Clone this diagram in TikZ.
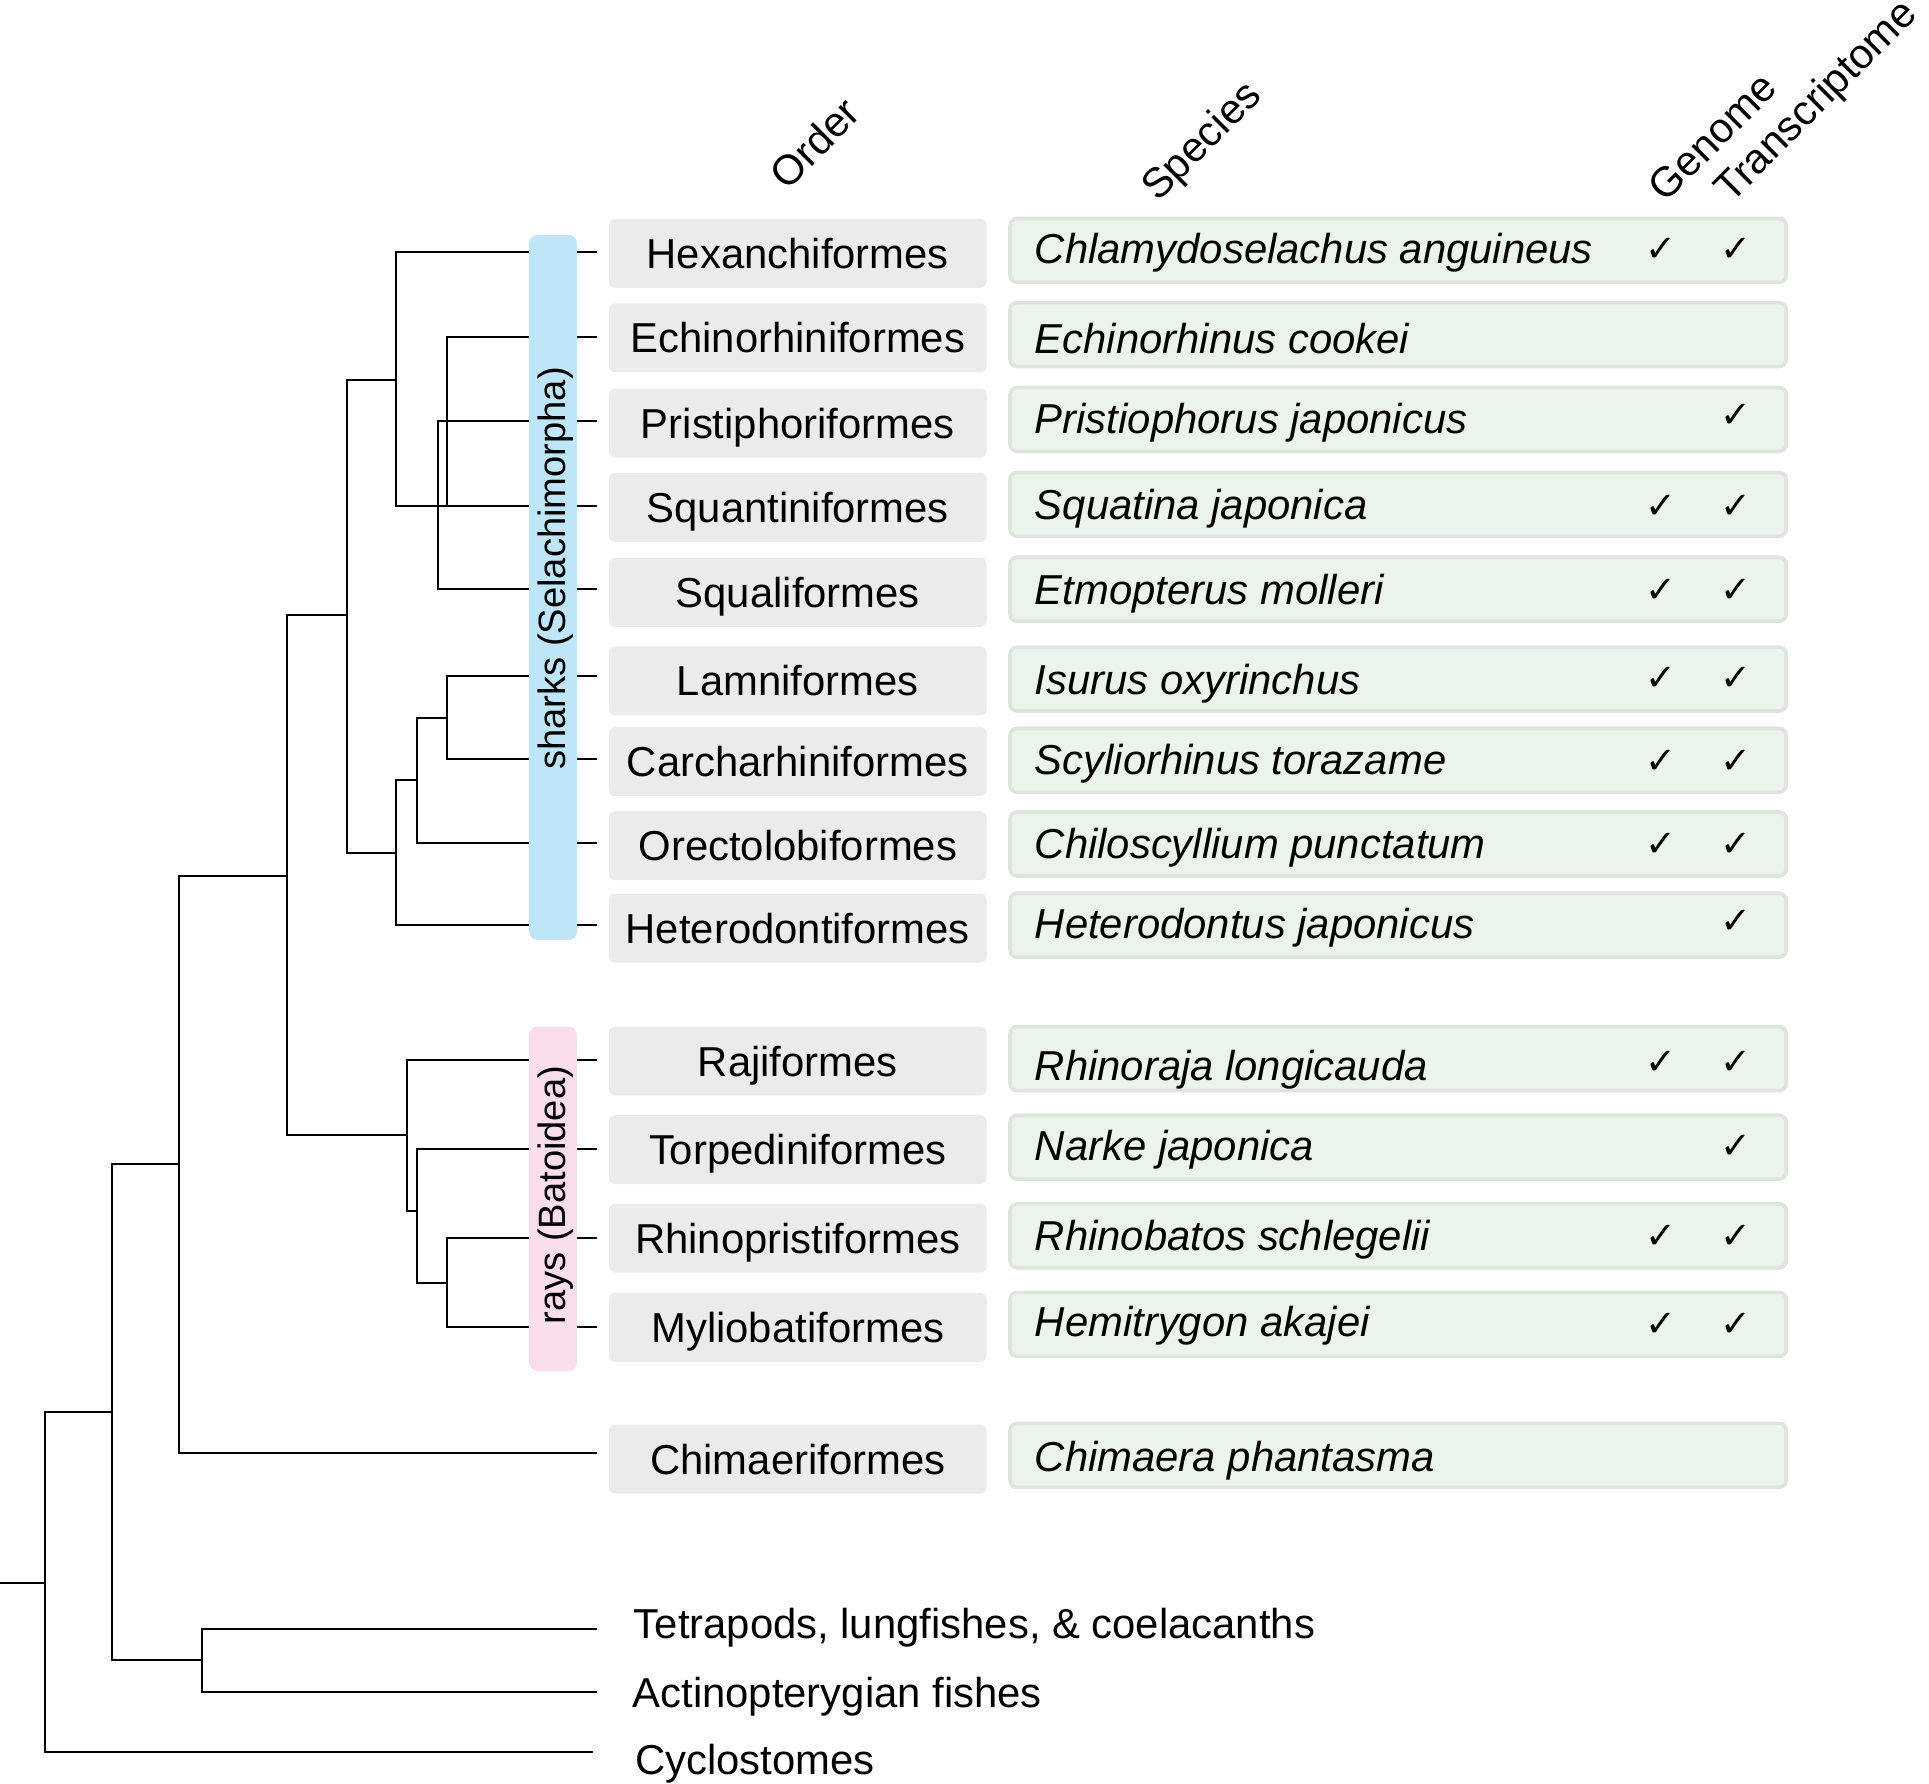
\documentclass[tikz,border=0pt]{standalone}
\usepackage{fontspec}
\setmainfont{Liberation Sans}
\newfontfamily\dejavu{DejaVu Sans}
\definecolor{ordgray}{HTML}{EBEBEB}
\definecolor{spgreen}{HTML}{EAF4EA}
\definecolor{spborder}{HTML}{E1E3E1}
\definecolor{sharkblue}{HTML}{BEE6F8}
\definecolor{raypink}{HTML}{FADDEA}
\begin{document}
\begin{tikzpicture}[x=1pt,y=-1pt,
  branch/.style={draw=black, line width=1.6pt},
  ordbox/.style={fill=ordgray, rounded corners=5pt, minimum width=307pt, minimum height=56pt,
    inner sep=0pt, text height=24.3pt, text depth=0pt, font=\fontsize{34}{40}\selectfont},
  spbox/.style={fill=spgreen, draw=spborder, line width=3pt, rounded corners=6pt,
    minimum width=631pt, minimum height=52pt, inner sep=0pt},
  sptext/.style={anchor=west, inner sep=0pt, text height=24.3pt, text depth=0pt,
    font=\fontsize{34}{40}\selectfont\itshape},
  chk/.style={inner sep=0pt, font=\dejavu\fontsize{30}{36}\selectfont},
  bar/.style={rounded corners=7pt, minimum width=39pt, inner sep=0pt},
  barlab/.style={rotate=90, inner sep=0pt, text height=22pt, text depth=0pt,
    font=\fontsize{31}{36}\selectfont},
  head/.style={rotate=45, inner sep=0pt, font=\fontsize{34}{40}\selectfont},
  outtext/.style={anchor=west, inner sep=0pt, text height=24.3pt, text depth=0pt,
    font=\fontsize{34}{40}\selectfont}]
\useasboundingbox (0,0) rectangle (1568,1450);
\fill[white] (0,0) rectangle (1568,1450);

% ---------- tips ----------
\coordinate (tHex) at (485,205);
\coordinate (tEch) at (485,274);
\coordinate (tPri) at (485,342);
\coordinate (tSqn) at (485,411);
\coordinate (tSql) at (485,479);
\coordinate (tLam) at (485,549.5);
\coordinate (tCar) at (485,617);
\coordinate (tOre) at (485,685);
\coordinate (tHet) at (485,752);
\coordinate (tRaj) at (485,861.5);
\coordinate (tTor) at (485,934);
\coordinate (tRhi) at (485,1006);
\coordinate (tMyl) at (485,1079);
\coordinate (tChi) at (485,1181);
\coordinate (tTet) at (485,1324);
\coordinate (tAct) at (485,1375.6);
\coordinate (tCyc) at (482,1424);
\coordinate (root) at (0,1286.6);

% ---------- internal nodes ----------
\coordinate (nA) at (322,309);
\coordinate (nB) at (363,342);
\coordinate (nC) at (356,410);
\coordinate (nD) at (282,500);
\coordinate (nE) at (321.6,693);
\coordinate (nF) at (338.7,634);
\coordinate (nG) at (363,583.6);
\coordinate (nH) at (233,712);
\coordinate (nI) at (331,922.6);
\coordinate (nJ) at (338.7,984);
\coordinate (nK) at (363,1042.6);
\coordinate (nL) at (145.5,946);
\coordinate (nM) at (90.8,1148);
\coordinate (nN) at (164.5,1349.5);
\coordinate (nO) at (36.6,1286.6);

% ---------- branches ----------
\draw[branch] (nA) |- (tHex);
\draw[branch] (nA) |- (tSqn);
\draw[branch] (nB) |- (tEch);
\draw[branch] (nB) |- (tSqn);
\draw[branch] (nC) |- (tPri);
\draw[branch] (nC) |- (tSql);
\draw[branch] (nD) |- (nA);
\draw[branch] (nD) |- (nE);
\draw[branch] (nE) |- (nF);
\draw[branch] (nE) |- (tHet);
\draw[branch] (nF) |- (nG);
\draw[branch] (nF) |- (tOre);
\draw[branch] (nG) |- (tLam);
\draw[branch] (nG) |- (tCar);
\draw[branch] (nH) |- (nD);
\draw[branch] (nH) |- (nI);
\draw[branch] (nI) |- (tRaj);
\draw[branch] (nI) |- (nJ);
\draw[branch] (nJ) |- (tTor);
\draw[branch] (nJ) |- (nK);
\draw[branch] (nK) |- (tRhi);
\draw[branch] (nK) |- (tMyl);
\draw[branch] (nL) |- (nH);
\draw[branch] (nL) |- (tChi);
\draw[branch] (nM) |- (nL);
\draw[branch] (nM) |- (nN);
\draw[branch] (nN) |- (tTet);
\draw[branch] (nN) |- (tAct);
\draw[branch] (nO) |- (nM);
\draw[branch] (nO) |- (tCyc);
\draw[branch] (root) -- (nO);

% ---------- clade bars ----------
\node[bar, fill=sharkblue, minimum height=573pt] (sharkbar) at (449.5,477.5) {};
\node[bar, fill=raypink, minimum height=280pt] (raybar) at (449.5,974.5) {};
\node[barlab] (sharklab) at (448.5,462) {sharks (Selachimorpha)};
\node[barlab] (raylab) at (448.5,971.5) {rays (Batoidea)};

% ---------- headers ----------
\node[head] (hOrder) at (662,116) {Order};
\node[head] (hSpecies) at (978,116) {Species};
\node[head] (hGenome) at (1392,111) {Genome};
\node[head, anchor=base west] (hTrans) at (1407,166) {Transcriptome};

% ---------- order boxes ----------
\node[ordbox] (oHex) at (648.5,206) {Hexanchiformes};
\node[ordbox] (oEch) at (648.5,274.5) {Echinorhiniformes};
\node[ordbox] (oPri) at (648.5,344) {Pristiphoriformes};
\node[ordbox] (oSqn) at (648.5,412.5) {Squantiniformes};
\node[ordbox] (oSql) at (648.5,481.5) {Squaliformes};
\node[ordbox] (oLam) at (648.5,553.5) {Lamniformes};
\node[ordbox] (oCar) at (648.5,619) {Carcharhiniformes};
\node[ordbox] (oOre) at (648.5,687.5) {Orectolobiformes};
\node[ordbox] (oHet) at (648.5,754.5) {Heterodontiformes};
\node[ordbox] (oRaj) at (648.5,862.5) {Rajiformes};
\node[ordbox] (oTor) at (648.5,934.5) {Torpediniformes};
\node[ordbox] (oRhi) at (648.5,1006.5) {Rhinopristiformes};
\node[ordbox] (oMyl) at (648.5,1079) {Myliobatiformes};
\node[ordbox] (oChi) at (648.5,1186) {Chimaeriformes};

% ---------- species boxes ----------
\node[spbox] (bHex) at (1136.5,203.5) {};
\node[spbox] (bEch) at (1136.5,272) {};
\node[spbox] (bPri) at (1136.5,341) {};
\node[spbox] (bSqn) at (1136.5,410) {};
\node[spbox] (bSql) at (1136.5,479) {};
\node[spbox] (bLam) at (1136.5,552) {};
\node[spbox] (bCar) at (1136.5,618) {};
\node[spbox] (bOre) at (1136.5,686) {};
\node[spbox] (bHet) at (1136.5,752) {};
\node[spbox] (bRaj) at (1136.5,860.5) {};
\node[spbox] (bTor) at (1136.5,932.5) {};
\node[spbox] (bRhi) at (1136.5,1004.5) {};
\node[spbox] (bMyl) at (1136.5,1076.5) {};
\node[spbox] (bChi) at (1136.5,1183) {};

\node[sptext] (sHex) at (841,202) {Chlamydoselachus anguineus};
\node[sptext] (sEch) at (841,275) {Echinorhinus cookei};
\node[sptext] (sPri) at (841,340) {Pristiophorus japonicus};
\node[sptext] (sSqn) at (841,410) {Squatina japonica};
\node[sptext] (sSql) at (841,479) {Etmopterus molleri};
\node[sptext] (sLam) at (841,552) {Isurus oxyrinchus};
\node[sptext] (sCar) at (841,617) {Scyliorhinus torazame};
\node[sptext] (sOre) at (841,686) {Chiloscyllium punctatum};
\node[sptext] (sHet) at (841,751) {Heterodontus japonicus};
\node[sptext] (sRaj) at (841,866) {Rhinoraja longicauda};
\node[sptext] (sTor) at (841,931) {Narke japonica};
\node[sptext] (sRhi) at (841,1004) {Rhinobatos schlegelii};
\node[sptext] (sMyl) at (841,1074) {Hemitrygon akajei};
\node[sptext] (sChi) at (841,1184) {Chimaera phantasma};

% ---------- check marks ----------
\node[chk] (gHex) at (1350,203) {✓};
\node[chk] (rHex) at (1411,203) {✓};
\node[chk] (rPri) at (1411,338) {✓};
\node[chk] (gSqn) at (1350,412) {✓};
\node[chk] (rSqn) at (1411,412) {✓};
\node[chk] (gSql) at (1350,480) {✓};
\node[chk] (rSql) at (1411,480) {✓};
\node[chk] (gLam) at (1350,552) {✓};
\node[chk] (rLam) at (1411,552) {✓};
\node[chk] (gCar) at (1350,619) {✓};
\node[chk] (rCar) at (1411,619) {✓};
\node[chk] (gOre) at (1350,687) {✓};
\node[chk] (rOre) at (1411,687) {✓};
\node[chk] (rHet) at (1411,749) {✓};
\node[chk] (gRaj) at (1350,864) {✓};
\node[chk] (rRaj) at (1411,864) {✓};
\node[chk] (rTor) at (1411,932) {✓};
\node[chk] (gRhi) at (1350,1005) {✓};
\node[chk] (rRhi) at (1411,1005) {✓};
\node[chk] (gMyl) at (1350,1077) {✓};
\node[chk] (rMyl) at (1411,1077) {✓};

% ---------- outgroups ----------
\node[outtext] (xTet) at (515,1320) {Tetrapods, lungfishes, \& coelacanths};
\node[outtext] (xAct) at (514,1376) {Actinopterygian fishes};
\node[outtext] (xCyc) at (516,1430) {Cyclostomes};
\end{tikzpicture}
\end{document}
